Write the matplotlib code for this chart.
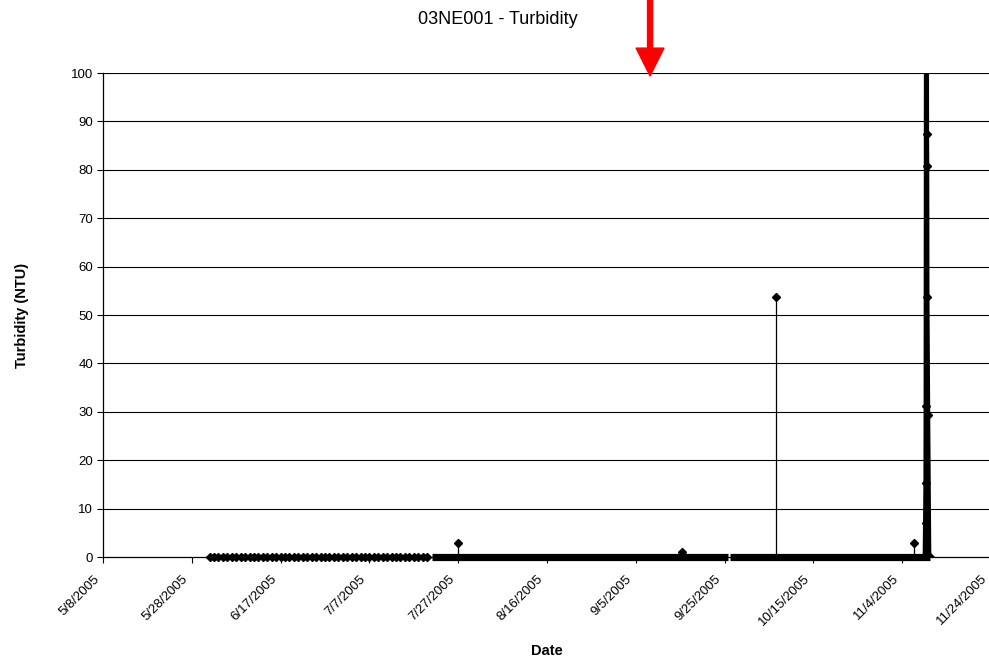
import matplotlib
matplotlib.use("Agg")
import matplotlib.pyplot as plt
import matplotlib.transforms as mtransforms
import pandas as pd

plt.rcParams["font.family"] = ["Liberation Sans", "DejaVu Sans"]

# daily grab samples (diamonds), all read at 0 NTU
grab_dates = pd.date_range("2005-06-01", "2005-07-20", freq="D")
grab_ntu = [0.0] * len(grab_dates)

# continuous logger deployments, readings sit at ~0 NTU (dense band)
logger_start = ["2005-07-21 00:00", "2005-09-26 04:00"]
logger_end = ["2005-09-25 20:00", "2005-11-10 06:00"]

# isolated logger spikes
spike_dates = ["2005-07-27 00:00", "2005-09-15 12:00", "2005-10-06 12:00", "2005-11-06 18:00"]
spike_ntu = [2.8, 1.1, 53.8, 2.8]

# storm event on 11/9 - 11/10 (peak runs off the top of the chart)
storm_times = ["2005-11-09 04:00", "2005-11-09 06:00", "2005-11-09 08:00", "2005-11-09 09:00",
               "2005-11-09 11:00", "2005-11-09 12:00", "2005-11-09 13:00", "2005-11-09 14:00",
               "2005-11-09 18:00", "2005-11-10 00:00", "2005-11-10 04:00"]
storm_ntu = [0.0, 7.1, 15.2, 31.1, 120.0, 87.3, 80.7, 53.7, 29.4, 0.0, 0.0]

tick_labels = ["5/8/2005", "5/28/2005", "6/17/2005", "7/7/2005", "7/27/2005", "8/16/2005",
               "9/5/2005", "9/25/2005", "10/15/2005", "11/4/2005", "11/24/2005"]
y_ticks = [0, 10, 20, 30, 40, 50, 60, 70, 80, 90, 100]

arrow_date = "2005-09-08 05:00"

fig = plt.figure(figsize=(9.89, 6.59), dpi=100)
ax = fig.add_axes([103 / 989, 1 - 557 / 659, 888 / 989, 484 / 659])

# horizontal gridlines
for v in y_ticks[1:]:
    ax.axhline(v, color="black", lw=0.8, zorder=1)

# grab samples
ax.plot(pd.to_datetime(grab_dates), grab_ntu, color="black", lw=0.8, marker="D",
        markersize=4, clip_on=False, zorder=3)

# logger band
for s, e in zip(logger_start, logger_end):
    ax.plot(pd.to_datetime([s, e]), [0, 0], color="black", lw=5.2,
            solid_capstyle="butt", clip_on=False, zorder=3)

# spikes
for d, v in zip(spike_dates, spike_ntu):
    dd = pd.to_datetime([d, d])
    ax.plot(dd, [0, v], color="black", lw=0.9, zorder=3)
    ax.plot(dd[1:], [v], color="black", marker="D", markersize=4.5, zorder=4)

# storm
st = pd.to_datetime(storm_times)
ax.plot(st, storm_ntu, color="black", lw=3.6, zorder=3)
ax.plot(st, storm_ntu, color="black", lw=0, marker="D", markersize=4, zorder=4)

ax.set_xlim(pd.to_datetime(tick_labels[0]), pd.to_datetime(tick_labels[-1]))
ax.set_ylim(0, 100)
ax.set_xticks(pd.to_datetime(tick_labels))
ax.set_xticklabels(tick_labels, rotation=45, ha="right", va="top",
                   rotation_mode="anchor", fontsize=9.5)
ax.set_yticks(y_ticks)
ax.set_yticklabels([str(v) for v in y_ticks], fontsize=9.5)
ax.tick_params(direction="out", length=4, width=0.8, color="black", pad=3)

# nudge the slanted date labels so they sit like the Excel ones
shift = mtransforms.ScaledTranslation(-10 / 100, -6 / 100, fig.dpi_scale_trans)
for lbl in ax.get_xticklabels():
    lbl.set_transform(lbl.get_transform() + shift)

for side in ["top", "right"]:
    ax.spines[side].set_visible(False)
for side in ["left", "bottom"]:
    ax.spines[side].set_color("black")
    ax.spines[side].set_linewidth(0.9)

ax.set_xlabel("Date", fontsize=10.5, fontweight="bold", labelpad=11)
ax.set_ylabel("Turbidity (NTU)", fontsize=10.5, fontweight="bold", labelpad=30)
fig.text(0.503, 0.971, "03NE001 - Turbidity", ha="center", va="center", fontsize=13)

# red arrow pointing at the date of interest
ax.annotate("", xy=(pd.to_datetime(arrow_date), 99.4),
            xytext=(pd.to_datetime(arrow_date), 1.0),
            xycoords="data", textcoords=("data", "figure fraction"),
            arrowprops=dict(facecolor="red", edgecolor="red", width=3.6,
                            headwidth=20, headlength=20, shrink=0),
            annotation_clip=False)

fig.savefig("out.png", dpi=100)
